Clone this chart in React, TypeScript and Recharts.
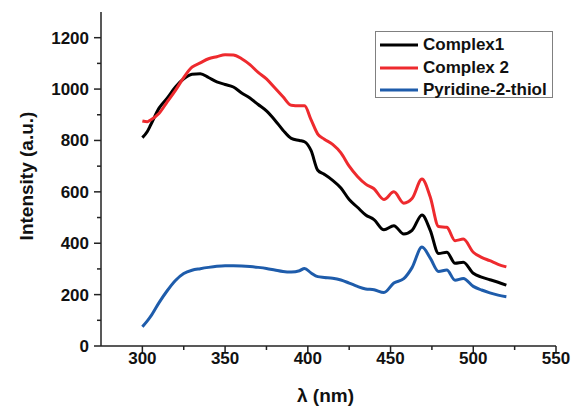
import React from 'react';
import { LineChart, Line, XAxis, YAxis, Legend } from 'recharts';

const wavelengths = [300, 303, 305, 310, 315, 320, 325, 330, 335, 340, 345, 350, 355, 360, 365, 370, 375, 380, 385, 390, 395, 398, 402, 406, 410, 415, 420, 425, 430, 435, 440, 446, 452, 458, 463, 469, 474, 479, 484, 489, 494, 500, 505, 510, 515, 520];

const complex1 = [811, 835, 860, 925, 965, 1008, 1040, 1058, 1060, 1045, 1028, 1018, 1008, 985, 965, 940, 915, 880, 840, 808, 800, 795, 760, 684, 668, 645, 615, 570, 540, 510, 492, 452, 468, 436, 450, 510, 450, 360, 365, 322, 326, 283, 268, 258, 248, 237];

const complex2 = [876, 873, 880, 905, 950, 995, 1045, 1085, 1102, 1118, 1126, 1134, 1133, 1118, 1095, 1065, 1040, 1005, 970, 937, 935, 935, 880, 825, 805, 785, 752, 700, 660, 630, 612, 570, 600, 556, 574, 650, 580, 465, 462, 410, 416, 365, 345, 332, 318, 308];

const pyridine = [75, 98, 115, 168, 215, 255, 282, 295, 301, 306, 310, 312, 312, 311, 309, 306, 302, 296, 290, 288, 293, 302, 284, 270, 267, 264, 257, 245, 232, 222, 219, 208, 245, 262, 305, 385, 342, 290, 296, 256, 263, 232, 218, 207, 198, 192];

const xTicks = [300, 325, 350, 375, 400, 425, 450, 475, 500, 525, 550];
const yTicks = [0, 100, 200, 300, 400, 500, 600, 700, 800, 900, 1000, 1100, 1200];

const seriesNames = ['Complex1', 'Complex 2', 'Pyridine-2-thiol'];
const seriesKeys = ['c1', 'c2', 'py'];
const seriesColors = ['#000000', '#ee2a2e', '#1e5cab'];

const data = wavelengths.map((wl, i) => ({
  wl,
  c1: complex1[i],
  c2: complex2[i],
  py: pyridine[i],
}));

const FONT = '"Liberation Sans", Arial, sans-serif';
const AXIS = '#222';

const XTick = (props: any) => {
  const { x, y, payload } = props;
  const major = payload.value % 50 === 0;
  return (
    <g>
      <line x1={x} x2={x} y1={y} y2={y + (major ? 7 : 4)} stroke={AXIS} strokeWidth={1.5} />
      {major && (
        <text x={x} y={y + 18} textAnchor="middle" fontSize={17} fontWeight="bold" fontFamily={FONT} fill="#111">
          {payload.value}
        </text>
      )}
    </g>
  );
};

const YTick = (props: any) => {
  const { x, y, payload } = props;
  const major = payload.value % 200 === 0;
  return (
    <g>
      <line x1={x} x2={x - (major ? 7 : 4)} y1={y} y2={y} stroke={AXIS} strokeWidth={1.5} />
      {major && (
        <text x={x - 12} y={y + 6} textAnchor="end" fontSize={17} fontWeight="bold" fontFamily={FONT} fill="#111">
          {payload.value}
        </text>
      )}
    </g>
  );
};

const LegendBox = () => (
  <div
    style={{
      width: 178,
      height: 67,
      boxSizing: 'border-box',
      border: '1px solid #808080',
      background: '#fff',
      paddingTop: 2,
      fontFamily: FONT,
    }}
  >
    {seriesNames.map((n, i) => (
      <div key={n} style={{ display: 'flex', alignItems: 'center', height: 22.5 }}>
        <svg width={47} height={10} style={{ display: 'block' }}>
          <line x1={4} x2={42} y1={5} y2={5} stroke={seriesColors[i]} strokeWidth={3} />
        </svg>
        <span style={{ fontSize: 17, fontWeight: 'bold', color: '#111', lineHeight: '20px' }}>{n}</span>
      </div>
    ))}
  </div>
);

export default function App() {
  return (
    <div style={{ position: 'absolute', left: 0, top: 0 }}>
      <LineChart width={572} height={406} data={data} margin={{ top: 12, right: 16, bottom: 0, left: 0 }}>
        <XAxis
          type="number"
          dataKey="wl"
          domain={[275, 550]}
          ticks={xTicks}
          interval={0}
          tickSize={0}
          tickMargin={0}
          tickLine={false}
          tick={<XTick />}
          height={60}
          stroke={AXIS}
          strokeWidth={1.5}
          label={(p: any) => {
            const vb = p.viewBox;
            return (
              <text x={vb.x + vb.width / 2 - 3} y={vb.y + 56} textAnchor="middle" fontSize={19} fontWeight="bold" fontFamily={FONT} fill="#111">
                λ (nm)
              </text>
            );
          }}
        />
        <YAxis
          type="number"
          domain={[0, 1300]}
          ticks={yTicks}
          interval={0}
          tickSize={0}
          tickMargin={0}
          tickLine={false}
          tick={<YTick />}
          width={101}
          stroke={AXIS}
          strokeWidth={1.5}
          label={(p: any) => {
            const vb = p.viewBox;
            const cy = vb.y + vb.height / 2 - 3;
            return (
              <text x={33} y={cy} transform={`rotate(-90 33 ${cy})`} textAnchor="middle" fontSize={19} fontWeight="bold" fontFamily={FONT} fill="#111">
                Intensity (a.u.)
              </text>
            );
          }}
        />
        <Legend
          layout="vertical"
          align="center"
          verticalAlign="middle"
          wrapperStyle={{ left: 375, top: 31, width: 178, height: 67 }}
          content={() => <LegendBox />}
        />
        {seriesKeys.map((k, i) => (
          <Line
            key={k}
            type="monotone"
            dataKey={k}
            name={seriesNames[i]}
            stroke={seriesColors[i]}
            strokeWidth={3}
            dot={false}
            isAnimationActive={false}
          />
        ))}
      </LineChart>
    </div>
  );
}
